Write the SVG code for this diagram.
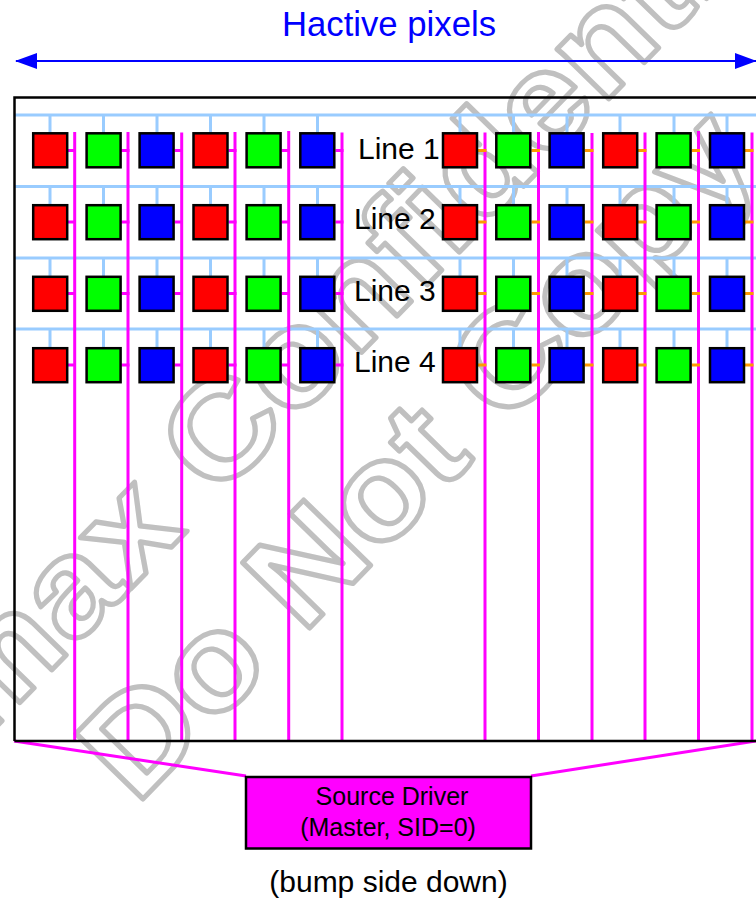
<svg xmlns="http://www.w3.org/2000/svg" width="756" height="899" viewBox="0 0 756 899">
<style>
text{font-family:"Liberation Sans",Arial,sans-serif}
.wm{fill:none;stroke:#c0c0c0;stroke-width:5;stroke-linejoin:round;font-size:136px;font-weight:bold}
.k{fill:#000;font-size:30px}
.r,.g,.b{stroke:#000;stroke-width:2.5}
.r{fill:#f00}.g{fill:#0f0}.b{fill:#00f}
.sb{stroke:#99ccff;stroke-width:3;fill:none}
.sn{stroke:#99ccff;stroke-width:3;fill:none}
.m{stroke:#f0f;stroke-width:3;fill:none}
.o{stroke:#f90;stroke-width:3;fill:none}
</style>
<defs>
<marker id="ah" markerUnits="userSpaceOnUse" markerWidth="22" markerHeight="16" refX="21" refY="8" orient="auto-start-reverse"><path d="M0 0L22 8L0 16Z" fill="#00f"/></marker>
<rect id="cr" class="r" width="34" height="34"/><rect id="cg" class="g" width="34" height="34"/><rect id="cb" class="b" width="34" height="34"/>
</defs>
<g id="watermark">
<text class="wm" transform="translate(-123 849) rotate(-45.7) scale(1.09 1)">Himax Confidential</text>
<text class="wm" transform="translate(136 806) rotate(-45.7) scale(1.09 1)">Do Not Copy</text>
</g>
<g id="connectors">
<path class="sb" d="M14 115H756M14 186.500H756M14 258H756M14 329H756"/>
<path class="sn" d="M50 115V133M103.500 115V133M157 115V133M210.500 115V133M264 115V133M317.500 115V133M460 115V133M513.500 115V133M567 115V133M620 115V133M674 115V133M727 115V133M50 186.500V205M103.500 186.500V205M157 186.500V205M210.500 186.500V205M264 186.500V205M317.500 186.500V205M460 186.500V205M513.500 186.500V205M567 186.500V205M620 186.500V205M674 186.500V205M727 186.500V205M50 258V276M103.500 258V276M157 258V276M210.500 258V276M264 258V276M317.500 258V276M460 258V276M513.500 258V276M567 258V276M620 258V276M674 258V276M727 258V276M50 329V347M103.500 329V347M157 329V347M210.500 329V347M264 329V347M317.500 329V347M460 329V347M513.500 329V347M567 329V347M620 329V347M674 329V347M727 329V347"/>
<path class="m" d="M68 150.500H76M121.500 150.500H129.500M175 150.500H183M228.500 150.500H236.500M282 150.500H290M335.500 150.500H343.500M68 222H76M121.500 222H129.500M175 222H183M228.500 222H236.500M282 222H290M335.500 222H343.500M68 293.500H76M121.500 293.500H129.500M175 293.500H183M228.500 293.500H236.500M282 293.500H290M335.500 293.500H343.500M68 365H76M121.500 365H129.500M175 365H183M228.500 365H236.500M282 365H290M335.500 365H343.500"/>
<path class="m" d="M74.700 132V741M128 132V741M181.700 132.500V741M235 132V741M288.700 131V741M342 132.500V741M485 132.500V741M538.500 132V741M592 133V741M645 132.500V741M698.500 131V741M752 132.500V741"/>
<path class="o" d="M478 150.500H486.500M531.500 150.500H540M585 150.500H593.500M638 150.500H646.500M692 150.500H700M745 150.500H753.500M478 222H486.500M531.500 222H540M585 222H593.500M638 222H646.500M692 222H700M745 222H753.500M478 293.500H486.500M531.500 293.500H540M585 293.500H593.500M638 293.500H646.500M692 293.500H700M745 293.500H753.500M478 365H486.500M531.500 365H540M585 365H593.500M638 365H646.500M692 365H700M745 365H753.500"/>
<path class="m" stroke-width="2.500" d="M14 741L246 776M756 741L531 776"/>
<path d="M14.500 741V97.500H756M14.500 741H756" fill="none" stroke="#000" stroke-width="2.500"/>
<path d="M16 61H756" stroke="#00f" stroke-width="2" marker-start="url(#ah)" marker-end="url(#ah)"/>
</g>
<g id="row1">
<use href="#cr" x="33.200" y="133.300"/><use href="#cg" x="86.600" y="133.300"/><use href="#cb" x="139.600" y="133.300"/><use href="#cr" x="193.500" y="133.300"/><use href="#cg" x="246.600" y="133.300"/><use href="#cb" x="300.300" y="133.300"/>
<use href="#cr" x="443" y="133.300"/><use href="#cg" x="496.300" y="133.300"/><use href="#cb" x="549.600" y="133.300"/><use href="#cr" x="603.200" y="133.300"/><use href="#cg" x="656.600" y="133.300"/><use href="#cb" x="710" y="133.300"/>
<text class="k" x="358" y="158.500">Line 1</text>
</g>
<g id="row2">
<use href="#cr" x="33.200" y="205.200"/><use href="#cg" x="86.600" y="205.200"/><use href="#cb" x="139.600" y="205.200"/><use href="#cr" x="193.500" y="205.200"/><use href="#cg" x="246.600" y="205.200"/><use href="#cb" x="300.300" y="205.200"/>
<use href="#cr" x="443" y="205.200"/><use href="#cg" x="496.300" y="205.200"/><use href="#cb" x="549.600" y="205.200"/><use href="#cr" x="603.200" y="205.200"/><use href="#cg" x="656.600" y="205.200"/><use href="#cb" x="710" y="205.200"/>
<text class="k" x="354" y="229">Line 2</text>
</g>
<g id="row3">
<use href="#cr" x="33.200" y="276.800"/><use href="#cg" x="86.600" y="276.800"/><use href="#cb" x="139.600" y="276.800"/><use href="#cr" x="193.500" y="276.800"/><use href="#cg" x="246.600" y="276.800"/><use href="#cb" x="300.300" y="276.800"/>
<use href="#cr" x="443" y="276.800"/><use href="#cg" x="496.300" y="276.800"/><use href="#cb" x="549.600" y="276.800"/><use href="#cr" x="603.200" y="276.800"/><use href="#cg" x="656.600" y="276.800"/><use href="#cb" x="710" y="276.800"/>
<text class="k" x="354" y="301">Line 3</text>
</g>
<g id="row4">
<use href="#cr" x="33.200" y="348.200"/><use href="#cg" x="86.600" y="348.200"/><use href="#cb" x="139.600" y="348.200"/><use href="#cr" x="193.500" y="348.200"/><use href="#cg" x="246.600" y="348.200"/><use href="#cb" x="300.300" y="348.200"/>
<use href="#cr" x="443" y="348.200"/><use href="#cg" x="496.300" y="348.200"/><use href="#cb" x="549.600" y="348.200"/><use href="#cr" x="603.200" y="348.200"/><use href="#cg" x="656.600" y="348.200"/><use href="#cb" x="710" y="348.200"/>
<text class="k" x="354" y="372">Line 4</text>
</g>
<g id="title"><text x="389" y="35.500" text-anchor="middle" font-size="34.700" fill="#00f">Hactive pixels</text></g>
<g id="source-driver">
<rect x="246" y="777" width="285" height="71.500" fill="#f0f" stroke="#000" stroke-width="2.500"/>
<text x="392" y="805" text-anchor="middle" font-size="25" fill="#000">Source Driver</text>
<text x="388" y="836" text-anchor="middle" font-size="25" fill="#000">(Master, SID=0)</text>
</g>
<g id="note"><text x="388.500" y="892" text-anchor="middle" font-size="30" fill="#000">(bump side down)</text></g>
</svg>
